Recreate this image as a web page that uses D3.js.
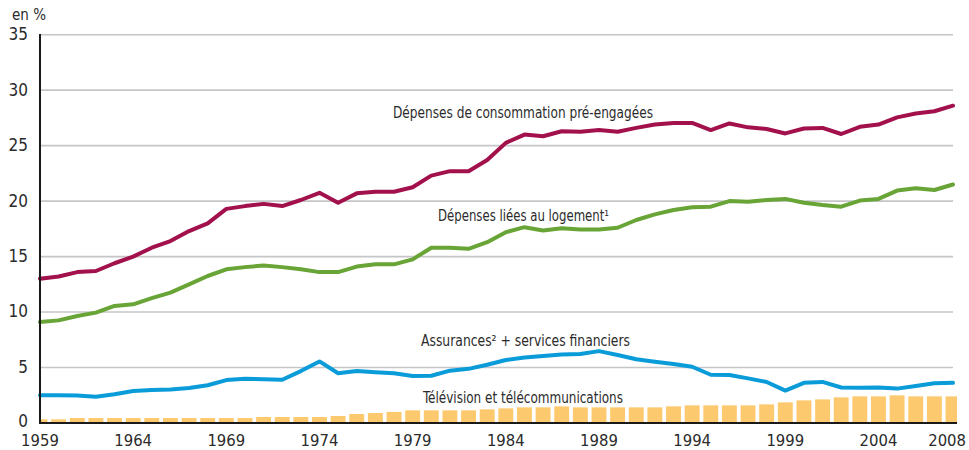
<!DOCTYPE html>
<html>
<head>
<meta charset="utf-8">
<script src="https://cdn.jsdelivr.net/npm/d3@7"></script>
<style>
  body { margin: 0; background: #fff; }
  svg { display: block; }
  text { font-family: "Liberation Sans Narrow", "DejaVu Sans Condensed", "Arial Narrow", sans-serif; fill: #2b2b2b; }
</style>
</head>
<body>
<svg id="chart" width="969" height="450"></svg>
<script>
// annees
var years = [1959,1960,1961,1962,1963,1964,1965,1966,1967,1968,1969,1970,1971,1972,1973,1974,1975,1976,1977,1978,
  1979,1980,1981,1982,1983,1984,1985,1986,1987,1988,1989,1990,1991,1992,1993,1994,1995,1996,1997,1998,
  1999,2000,2001,2002,2003,2004,2005,2006,2007,2008];

// Dépenses de consommation pré-engagées
var preEngagees = [13.0,13.2,13.6,13.7,14.4,15.0,15.8,16.4,17.3,18.0,19.3,19.55,19.75,19.55,20.1,20.75,19.85,20.7,20.85,20.85,
  21.25,22.3,22.7,22.7,23.7,25.25,26.0,25.85,26.3,26.25,26.4,26.25,26.6,26.9,27.05,27.05,26.4,27.0,26.65,26.5,
  26.1,26.55,26.6,26.05,26.7,26.9,27.55,27.9,28.1,28.6];

// Dépenses liées au logement
var logement = [9.1,9.25,9.65,9.95,10.55,10.7,11.25,11.75,12.5,13.25,13.85,14.05,14.2,14.05,13.85,13.6,13.6,14.1,14.3,14.3,
  14.75,15.8,15.8,15.7,16.3,17.2,17.65,17.35,17.55,17.45,17.45,17.6,18.3,18.8,19.2,19.45,19.5,20.0,19.95,20.1,
  20.2,19.85,19.65,19.5,20.05,20.2,20.95,21.15,21.0,21.5];

// Assurances + services financiers
var assurances = [2.5,2.5,2.48,2.37,2.6,2.88,2.97,3.03,3.15,3.4,3.87,3.98,3.95,3.9,4.68,5.55,4.48,4.68,4.57,4.48,
  4.23,4.26,4.72,4.88,5.25,5.68,5.9,6.04,6.18,6.22,6.48,6.13,5.74,5.52,5.32,5.07,4.35,4.32,4.02,3.7,
  2.92,3.62,3.7,3.2,3.17,3.2,3.1,3.33,3.58,3.62];

// Télévision et télécommunications (barres)
var television = [0.33,0.33,0.45,0.45,0.45,0.45,0.45,0.45,0.45,0.45,0.45,0.45,0.54,0.54,0.54,0.54,0.63,0.81,0.9,1.0,
  1.14,1.14,1.14,1.14,1.23,1.32,1.41,1.41,1.5,1.41,1.41,1.41,1.41,1.41,1.5,1.59,1.59,1.59,1.59,1.68,
  1.86,2.04,2.13,2.31,2.4,2.4,2.49,2.4,2.4,2.4];

var xTicks = [1959,1964,1969,1974,1979,1984,1989,1994,1999,2004,2008];
var yTicks = [0,5,10,15,20,25,30,35];

var svg = d3.select('#chart');

var x = d3.scaleLinear().domain([1959, 2008]).range([40, 953]);
var y = d3.scaleLinear().domain([0, 35]).range([423, 34.7]);
var step = x(1960) - x(1959);

// grille
svg.append('g').selectAll('line').data(yTicks.filter(function(d){ return d > 0; }))
  .enter().append('line')
  .attr('x1', 40).attr('x2', 953)
  .attr('y1', function(d){ return y(d); }).attr('y2', function(d){ return y(d); })
  .attr('stroke', '#c6c6c9').attr('stroke-width', 1.6);

// barres télé
svg.append('clipPath').attr('id', 'clipBars')
  .append('rect').attr('x', 40).attr('y', 0).attr('width', 917).attr('height', 450);

svg.append('g').attr('clip-path', 'url(#clipBars)')
  .selectAll('rect').data(years).enter().append('rect')
  .attr('x', function(d){ return x(d) - step * 0.4; })
  .attr('width', step * 0.8)
  .attr('y', function(d, i){ return y(television[i]); })
  .attr('height', function(d, i){ return y(0) - y(television[i]); })
  .attr('fill', '#fdc96e');

// courbes
var line = d3.line()
  .x(function(d){ return x(d[0]); })
  .y(function(d){ return y(d[1]); });

var series = [
  { values: assurances, color: '#0a9bd9' },
  { values: logement, color: '#68a436' },
  { values: preEngagees, color: '#a2114b' }
];

svg.append('g').selectAll('path').data(series).enter().append('path')
  .attr('d', function(s){ return line(years.map(function(yr, i){ return [yr, s.values[i]]; })); })
  .attr('fill', 'none')
  .attr('stroke', function(s){ return s.color; })
  .attr('stroke-width', 4)
  .attr('stroke-linejoin', 'round')
  .attr('stroke-linecap', 'round');

// axes
svg.append('line').attr('x1', 40).attr('x2', 40).attr('y1', 34).attr('y2', 424)
  .attr('stroke', '#1a1a1a').attr('stroke-width', 2);
svg.append('line').attr('x1', 39).attr('x2', 957).attr('y1', y(0)).attr('y2', y(0))
  .attr('stroke', '#1a1a1a').attr('stroke-width', 2);

svg.append('g').selectAll('text').data(yTicks).enter().append('text')
  .attr('x', 28).attr('y', function(d){ return d === 0 ? y(d) - 1.5 : y(d); })
  .attr('dy', '0.32em')
  .attr('text-anchor', 'end')
  .attr('font-size', 17)
  .text(function(d){ return d; });

svg.append('g').selectAll('text').data(xTicks).enter().append('text')
  .attr('x', function(d){ return d === 2008 ? 966 : x(d); })
  .attr('y', 446)
  .attr('text-anchor', function(d){ return d === 2008 ? 'end' : 'middle'; })
  .attr('font-size', 16.5)
  .text(function(d){ return d; });

svg.append('text').attr('x', 12).attr('y', 20).attr('font-size', 15).text('en %');

// étiquettes des séries
function label(px, py, width, txt) {
  svg.append('text').attr('x', px).attr('y', py).attr('font-size', 16)
    .attr('textLength', width).attr('lengthAdjust', 'spacingAndGlyphs')
    .text(txt);
}
label(393, 118, 260, 'Dépenses de consommation pré-engagées');
label(438, 221, 171, 'Dépenses liées au logement¹');
label(421, 346, 209, 'Assurances² + services financiers');
label(423, 403, 200, 'Télévision et télécommunications');
</script>
</body>
</html>
